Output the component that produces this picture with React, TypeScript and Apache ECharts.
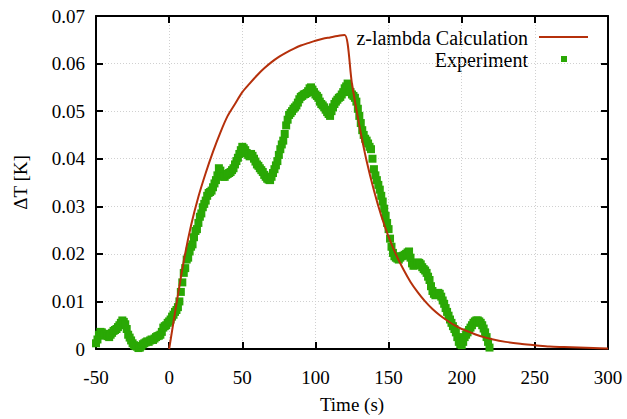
import React, { useEffect, useRef } from "react";
import * as echarts from "echarts";

// z-lambda calculation curve (time s, ΔT K)
const calcTime = [0, 5, 10, 15, 20, 25, 30, 35, 40, 45, 50, 55, 60, 65, 70, 75, 80, 85, 90, 95, 100, 105, 110, 115, 120, 125, 130, 135, 140, 145, 150, 155, 160, 165, 170, 175, 180, 185, 190, 195, 200, 205, 210, 215, 220, 230, 240, 250, 260, 270, 280, 290, 300];
const calcDT = [0, 0.0095, 0.0185, 0.026, 0.032, 0.037, 0.0415, 0.0455, 0.049, 0.0515, 0.054, 0.0558, 0.0575, 0.059, 0.0603, 0.0614, 0.0623, 0.0631, 0.0638, 0.0643, 0.0648, 0.0652, 0.0655, 0.0658, 0.066, 0.0557, 0.047, 0.0395, 0.0333, 0.028, 0.0236, 0.0199, 0.0168, 0.0141, 0.0119, 0.01, 0.0084, 0.0071, 0.006, 0.005, 0.0042, 0.0036, 0.003, 0.0025, 0.0021, 0.0015, 0.0011, 0.0008, 0.0005, 0.0004, 0.0003, 0.0002, 0.0001];

// Experiment, even seconds
const expTimeA = [-50, -48, -46, -44, -42, -40, -38, -36, -34, -32, -30, -28, -26, -24, -22, -20, -18, -16, -14, -12, -10, -8, -6, -4, -2, 0, 2, 4, 6, 8, 10, 12, 14, 16, 18, 20, 22, 24, 26, 28, 30, 32, 34, 36, 38, 40, 42, 44, 46, 48, 50, 52, 54, 56, 58, 60, 62, 64, 66, 68, 70, 72, 74, 76, 78, 80, 82, 84, 86, 88, 90, 92, 94, 96, 98, 100, 102, 104, 106, 108, 110, 112, 114, 116, 118, 120, 122, 124, 126, 128, 130, 132, 134, 136, 138, 140, 142, 144, 146, 148, 150, 152, 154, 156, 158, 160, 162, 164, 166, 168, 170, 172, 174, 176, 178, 180, 182, 184, 186, 188, 190, 192, 194, 196, 198, 200, 202, 204, 206, 208, 210, 212, 214, 216, 218];
const expDTA = [0.0012, 0.003, 0.0035, 0.003, 0.0027, 0.003, 0.0038, 0.0042, 0.005, 0.006, 0.0052, 0.003, 0.0018, 0.0008, 0.0005, 0.0003, 0.001, 0.0014, 0.0015, 0.002, 0.0022, 0.0027, 0.003, 0.0045, 0.005, 0.0058, 0.0068, 0.0078, 0.0088, 0.012, 0.016, 0.0188, 0.0205, 0.022, 0.0248, 0.0265, 0.0285, 0.0305, 0.0322, 0.033, 0.034, 0.0355, 0.038, 0.0368, 0.0362, 0.0368, 0.0372, 0.038, 0.0395, 0.041, 0.0425, 0.0418, 0.0408, 0.041, 0.04, 0.0388, 0.038, 0.0372, 0.0362, 0.0356, 0.0362, 0.0378, 0.0395, 0.042, 0.0438, 0.047, 0.0492, 0.05, 0.0508, 0.0518, 0.053, 0.0535, 0.0538, 0.0548, 0.0545, 0.0535, 0.0528, 0.0515, 0.0508, 0.0498, 0.049, 0.0508, 0.052, 0.0528, 0.0535, 0.0548, 0.0558, 0.054, 0.0532, 0.052, 0.049, 0.046, 0.0442, 0.0432, 0.042, 0.0378, 0.0355, 0.0335, 0.031, 0.028, 0.0252, 0.0215, 0.0195, 0.019, 0.0192, 0.0196, 0.02, 0.0205, 0.018, 0.0176, 0.0182, 0.0178, 0.0168, 0.016, 0.0145, 0.0122, 0.0113, 0.0118, 0.011, 0.0095, 0.0078, 0.0062, 0.0048, 0.0035, 0.0015, 0.0008, 0.0025, 0.0035, 0.0045, 0.0055, 0.006, 0.0058, 0.005, 0.0035, 0.0015];

// Experiment, odd seconds
const expTimeB = [-49, -47, -45, -43, -41, -39, -37, -35, -33, -31, -29, -27, -25, -23, -21, -19, -17, -15, -13, -11, -9, -7, -5, -3, -1, 1, 3, 5, 7, 9, 11, 13, 15, 17, 19, 21, 23, 25, 27, 29, 31, 33, 35, 37, 39, 41, 43, 45, 47, 49, 51, 53, 55, 57, 59, 61, 63, 65, 67, 69, 71, 73, 75, 77, 79, 81, 83, 85, 87, 89, 91, 93, 95, 97, 99, 101, 103, 105, 107, 109, 111, 113, 115, 117, 119, 121, 123, 125, 127, 129, 131, 133, 135, 137, 139, 141, 143, 145, 147, 149, 151, 153, 155, 157, 159, 161, 163, 165, 167, 169, 171, 173, 175, 177, 179, 181, 183, 185, 187, 189, 191, 193, 195, 197, 199, 201, 203, 205, 207, 209, 211, 213, 215, 217, 219];
const expDTB = [0.002, 0.0036, 0.0028, 0.0032, 0.0025, 0.0034, 0.004, 0.0046, 0.0055, 0.0057, 0.0042, 0.0024, 0.0012, 0.0006, 0.0002, 0.0006, 0.0012, 0.0016, 0.0018, 0.0019, 0.0025, 0.0028, 0.0036, 0.0048, 0.0055, 0.0062, 0.0072, 0.0082, 0.01, 0.014, 0.017, 0.0192, 0.0215, 0.0235, 0.0252, 0.0278, 0.0298, 0.0312, 0.0328, 0.0333, 0.0348, 0.0365, 0.0375, 0.0362, 0.0366, 0.037, 0.0376, 0.0388, 0.0402, 0.0418, 0.0422, 0.0412, 0.0405, 0.0406, 0.0394, 0.0385, 0.0376, 0.0366, 0.0358, 0.0355, 0.037, 0.0386, 0.0408, 0.043, 0.0452, 0.0482, 0.0496, 0.0505, 0.0512, 0.0525, 0.0532, 0.0536, 0.0542, 0.055, 0.054, 0.0532, 0.052, 0.0512, 0.0503, 0.0494, 0.05, 0.0515, 0.0524, 0.053, 0.054, 0.0552, 0.055, 0.0535, 0.0528, 0.0505, 0.0475, 0.045, 0.0438, 0.0425, 0.04, 0.0365, 0.0345, 0.0322, 0.0295, 0.0265, 0.0232, 0.0202, 0.0192, 0.0188, 0.0195, 0.0198, 0.0203, 0.0192, 0.0175, 0.018, 0.0181, 0.0172, 0.0165, 0.0152, 0.0132, 0.0116, 0.0115, 0.0116, 0.0102, 0.0086, 0.007, 0.0055, 0.0042, 0.0025, 0.001, 0.0015, 0.003, 0.004, 0.005, 0.0058, 0.006, 0.0055, 0.0043, 0.0025, 0.0003];

const xTicks = { min: -50, max: 300, interval: 50 };
const yTicks = { min: 0, max: 0.07, interval: 0.01 };

const FONT = "'Liberation Serif', 'DejaVu Serif', serif";
const LINE_COLOR = "#b5300b";
const PT_COLOR = "#2aa805";

export default function App() {
  const ref = useRef<HTMLDivElement>(null);
  useEffect(() => {
    if (!ref.current) return;
    const chart = echarts.init(ref.current, undefined, { renderer: "svg" });
    const splitLine = { show: true, lineStyle: { color: "#d0d0d0", type: [1, 2] as any, width: 1 } };
    const axisLine = { show: true, onZero: false, lineStyle: { color: "#000", width: 2 } };
    const axisTick = { show: true, inside: true, length: 7, lineStyle: { color: "#000", width: 2 } };
    const expData = expTimeA
      .map((t, i) => [t, expDTA[i]])
      .concat(expTimeB.map((t, i) => [t, expDTB[i]]))
      .sort((a, b) => a[0] - b[0]);
    chart.setOption({
      animation: false,
      backgroundColor: "#fff",
      grid: { left: 96, right: 19, top: 16, bottom: 69, containLabel: false },
      xAxis: [
        {
          type: "value", ...xTicks, position: "bottom",
          axisLine, axisTick, splitLine,
          axisLabel: { color: "#000", fontFamily: FONT, fontSize: 19, margin: 19 },
          name: "Time (s)", nameLocation: "middle", nameGap: 46,
          nameTextStyle: { color: "#000", fontFamily: FONT, fontSize: 19 },
        },
        {
          type: "value", ...xTicks, position: "top",
          axisLine, axisTick, splitLine: { show: false }, axisLabel: { show: false },
        },
      ],
      yAxis: [
        {
          type: "value", ...yTicks, position: "left",
          axisLine, axisTick, splitLine,
          axisLabel: {
            color: "#000", fontFamily: FONT, fontSize: 19, margin: 11,
            formatter: (v: number) => (v === 0 ? "0" : v.toFixed(2)),
          },
          name: "ΔT [K]", nameLocation: "middle", nameGap: 66, nameRotate: 90,
          nameTextStyle: { color: "#000", fontFamily: FONT, fontSize: 19 },
        },
        {
          type: "value", ...yTicks, position: "right",
          axisLine, axisTick, splitLine: { show: false }, axisLabel: { show: false },
        },
      ],
      series: [
        {
          name: "Experiment",
          type: "scatter",
          data: expData,
          symbol: "rect",
          symbolSize: 8,
          itemStyle: { color: PT_COLOR, opacity: 1 },
          z: 2,
        },
        {
          name: "z-lambda Calculation",
          type: "line",
          data: calcTime.map((t, i) => [t, calcDT[i]]),
          smooth: 0.3,
          showSymbol: false,
          lineStyle: { color: LINE_COLOR, width: 2 },
          itemStyle: { color: LINE_COLOR },
          z: 3,
        },
      ],
      graphic: [
        { type: "text", x: 528, y: 38, style: { text: "z-lambda Calculation", fill: "#000", font: `20px ${FONT}`, align: "right", verticalAlign: "middle" } },
        { type: "line", shape: { x1: 539, y1: 37, x2: 588, y2: 37 }, style: { stroke: LINE_COLOR, lineWidth: 2 } },
        { type: "text", x: 528, y: 60, style: { text: "Experiment", fill: "#000", font: `20px ${FONT}`, align: "right", verticalAlign: "middle" } },
        { type: "rect", shape: { x: 561, y: 56, width: 6, height: 6 }, style: { fill: PT_COLOR } },
      ],
    });
    return () => chart.dispose();
  }, []);
  return <div ref={ref} style={{ position: "fixed", left: 0, top: 0, width: 627, height: 419 }} />;
}
